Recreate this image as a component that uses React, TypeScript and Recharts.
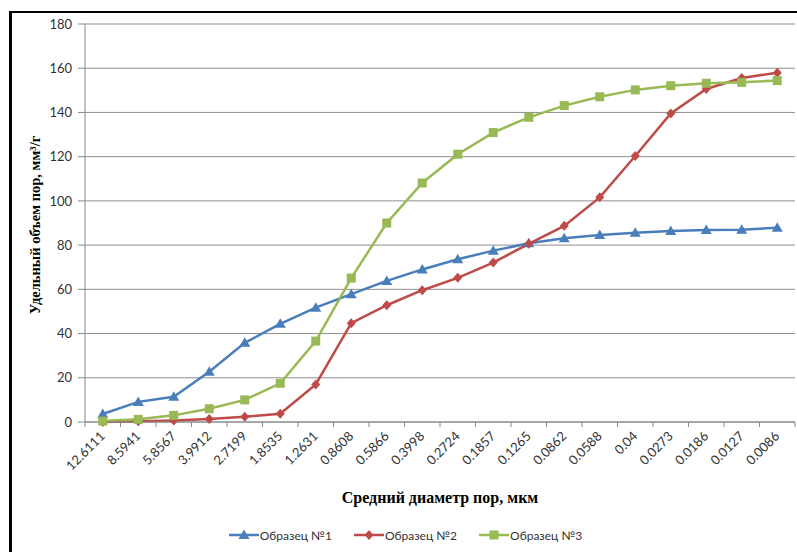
import React from 'react';
import { LineChart, Line, XAxis, YAxis, CartesianGrid, Legend, Label } from 'recharts';

const categories = ['12.6111', '8.5941', '5.8567', '3.9912', '2.7199', '1.8535', '1.2631', '0.8608', '0.5866', '0.3998', '0.2724', '0.1857', '0.1265', '0.0862', '0.0588', '0.04', '0.0273', '0.0186', '0.0127', '0.0086'];
const sample1 = [3.6, 9.1, 11.4, 22.7, 35.8, 44.4, 51.7, 57.8, 63.8, 69.0, 73.6, 77.5, 80.8, 83.1, 84.6, 85.6, 86.4, 86.8, 87.0, 87.9];
const sample2 = [0, 0.3, 0.7, 1.4, 2.4, 3.7, 17.0, 44.7, 52.8, 59.6, 65.2, 72.1, 80.6, 88.7, 101.6, 120.3, 139.5, 150.6, 155.6, 158.0];
const sample3 = [0.4, 1.2, 3.0, 6.0, 10.0, 17.5, 36.6, 65.1, 90.0, 108.1, 121.1, 130.9, 137.8, 143.1, 147.1, 150.2, 152.1, 153.2, 153.6, 154.4];
const yTicks = [0, 20, 40, 60, 80, 100, 120, 140, 160, 180];
const seriesNames = ['Образец №1', 'Образец №2', 'Образец №3'];

const COLORS = ['#4A7EBB', '#BE4B48', '#98B954'];

const data = categories.map((c, i) => ({ cat: c, s1: sample1[i], s2: sample2[i], s3: sample3[i] }));

const HALF_BAND = 17.75;

const Triangle = ({ cx, cy, fill }: any) => (
  <path d={`M${cx},${cy - 5.5} L${cx + 5.5},${cy + 4} L${cx - 5.5},${cy + 4} Z`} fill={fill} />
);
const Diamond = ({ cx, cy, fill }: any) => (
  <path d={`M${cx},${cy - 5} L${cx + 4.5},${cy} L${cx},${cy + 5} L${cx - 4.5},${cy} Z`} fill={fill} />
);
const Square = ({ cx, cy, fill }: any) => (
  <rect x={cx - 4.5} y={cy - 4.5} width={9} height={9} fill={fill} />
);

const dotFor = (kind: number) => (props: any) => {
  const { cx, cy, index } = props;
  if (cx == null || cy == null) return <g key={index} />;
  const fill = COLORS[kind];
  return (
    <g key={`d${kind}-${index}`}>
      {kind === 0 ? <Triangle cx={cx} cy={cy} fill={fill} /> : kind === 1 ? <Diamond cx={cx} cy={cy} fill={fill} /> : <Square cx={cx} cy={cy} fill={fill} />}
    </g>
  );
};

const XTick = (props: any) => {
  const { x, y, payload, index } = props;
  const tx = x + 3;
  const ty = y + 15;
  return (
    <g>
      <line x1={x - HALF_BAND} y1={y} x2={x - HALF_BAND} y2={y + 5} stroke="#888" />
      {index === categories.length - 1 && (
        <line x1={x + HALF_BAND} y1={y} x2={x + HALF_BAND} y2={y + 5} stroke="#888" />
      )}
      <text x={tx} y={ty} transform={`rotate(-45, ${tx}, ${ty})`} textAnchor="end" fontFamily="Lato" fontSize={13} fill="#333">
        {payload.value}
      </text>
    </g>
  );
};

const LegendContent = () => (
  <div style={{ display: 'flex', justifyContent: 'center', gap: 22, height: 20, alignItems: 'center', fontFamily: 'Lato', fontSize: 12, color: '#333', paddingLeft: 14 }}>
    {seriesNames.map((n, k) => (
      <div key={n} style={{ display: 'flex', alignItems: 'center' }}>
        <svg width={30} height={12} style={{ marginRight: 1 }}>
          <line x1={0} y1={6} x2={30} y2={6} stroke={COLORS[k]} strokeWidth={2.5} />
          {k === 0 ? <Triangle cx={15} cy={6} fill={COLORS[0]} /> : k === 1 ? <Diamond cx={15} cy={6} fill={COLORS[1]} /> : <Square cx={15} cy={6} fill={COLORS[2]} />}
        </svg>
        <span>{n}</span>
      </div>
    ))}
  </div>
);

export default function App() {
  return (
    <div style={{ position: 'absolute', left: 0, top: 0, width: 797, height: 552, background: '#fff', overflow: 'hidden' }}>
      <div style={{ position: 'absolute', left: 9, top: 11, width: 820, height: 600, borderLeft: '3px solid #000', borderTop: '2px solid #000' }} />
      <LineChart width={797} height={552} data={data} margin={{ top: 24, right: 2, left: 0, bottom: 50 }}>
        <CartesianGrid vertical={false} stroke="#8f8f8f" />
        <XAxis dataKey="cat" scale="band" height={60} tickSize={0} tickMargin={0} tickLine={false} axisLine={{ stroke: '#888' }} tick={<XTick />} interval={0}>
          <Label
            content={() => (
              <text x={440} y={503} textAnchor="middle" fontFamily="Liberation Serif" fontWeight="bold" fontSize={16} fill="#000">
                Средний диаметр пор, мкм
              </text>
            )}
          />
        </XAxis>
        <YAxis width={85} domain={[0, 180]} ticks={yTicks} tickSize={7} tickMargin={6} axisLine={{ stroke: '#888' }} tickLine={{ stroke: '#888' }} tick={{ fontFamily: 'Lato', fontSize: 13, fill: '#333' }}>
          <Label
            content={() => (
              <text transform="translate(40,225) rotate(-90)" textAnchor="middle" fontFamily="Liberation Serif" fontWeight="bold" fontSize={14.5} fill="#000">
                Удельный объем пор, мм³/г
              </text>
            )}
          />
        </YAxis>
        <Legend verticalAlign="bottom" content={<LegendContent />} wrapperStyle={{ position: 'absolute', top: 525, left: 0, width: 797, height: 20 }} />
        <Line type="linear" dataKey="s1" name={seriesNames[0]} stroke={COLORS[0]} strokeWidth={2.5} dot={dotFor(0)} activeDot={false} isAnimationActive={false} />
        <Line type="linear" dataKey="s2" name={seriesNames[1]} stroke={COLORS[1]} strokeWidth={2.5} dot={dotFor(1)} activeDot={false} isAnimationActive={false} />
        <Line type="linear" dataKey="s3" name={seriesNames[2]} stroke={COLORS[2]} strokeWidth={2.5} dot={dotFor(2)} activeDot={false} isAnimationActive={false} />
      </LineChart>
    </div>
  );
}
